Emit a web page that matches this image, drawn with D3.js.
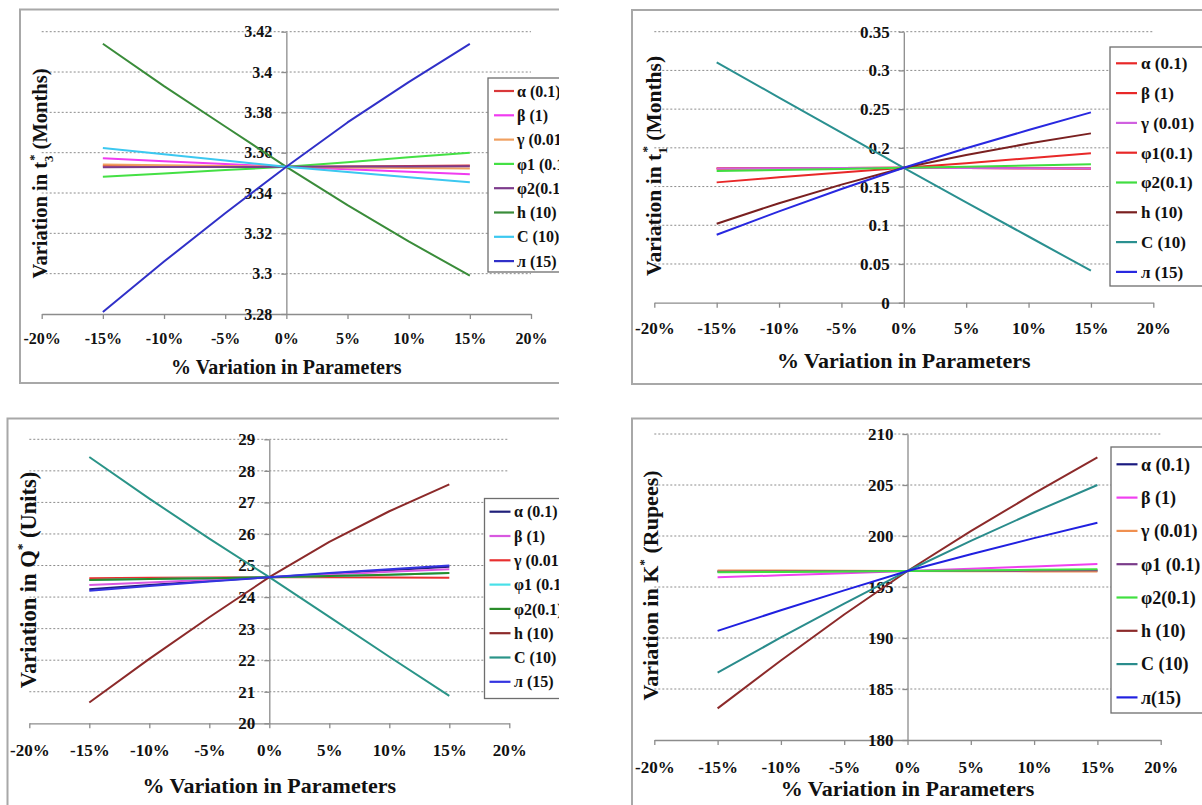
<!DOCTYPE html>
<html><head><meta charset="utf-8">
<script src="https://cdn.jsdelivr.net/npm/d3@7"></script>
<style>
html,body{margin:0;padding:0;background:#fff;}
svg{display:block;}
text{font-family:"Liberation Serif","Times New Roman",serif;font-weight:bold;fill:#111;}
</style></head><body>
<svg id="chart" width="1202" height="805"></svg>
<script>
// ---------- shared ----------
const xValues = [-15, -10, -5, 0, 5, 10, 15];
const xTickValues = [-20, -15, -10, -5, 0, 5, 10, 15, 20];
const xTickLabels = ["-20%", "-15%", "-10%", "-5%", "0%", "5%", "10%", "15%", "20%"];
const xTitle = "% Variation in Parameters";

// ---------- panel 1 : t3* ----------
const names1 = ["α (0.1)", "β (1)", "γ (0.01)", "φ1 (0.1)", "φ2(0.1)", "h (10)", "C (10)", "л (15)"];
const t3_alpha  = [3.3535, 3.3534, 3.3532, 3.353, 3.3532, 3.3534, 3.3536];
const t3_beta   = [3.3573, 3.3558, 3.3544, 3.353, 3.3518, 3.3505, 3.3493];
const t3_gamma  = [3.3542, 3.3538, 3.3534, 3.353, 3.3527, 3.3524, 3.3521];
const t3_phi1   = [3.3481, 3.3497, 3.3514, 3.353, 3.3553, 3.3577, 3.3600];
const t3_phi2   = [3.3528, 3.3529, 3.3529, 3.353, 3.3531, 3.3532, 3.3533];
const t3_h      = [3.414, 3.393, 3.373, 3.353, 3.334, 3.316, 3.299];
const t3_C      = [3.3623, 3.3592, 3.3561, 3.353, 3.3504, 3.3478, 3.3453];
const t3_lambda = [3.281, 3.306, 3.330, 3.353, 3.375, 3.395, 3.414];
const yTicks1 = [3.28, 3.30, 3.32, 3.34, 3.36, 3.38, 3.40, 3.42];
const yTickLabels1 = ["3.28", "3.3", "3.32", "3.34", "3.36", "3.38", "3.4", "3.42"];
const colors1 = ["#d9383a", "#f03cf0", "#f0a060", "#44e044", "#7d3c8c", "#3a8c3a", "#3cc8f0", "#3030c8"];

// ---------- panel 2 : t1* ----------
const names2 = ["α (0.1)", "β (1)", "γ (0.01)", "φ1(0.1)", "φ2(0.1)", "h (10)", "C (10)", "л (15)"];
const t1_alpha  = [0.1734, 0.1737, 0.1739, 0.1742, 0.1739, 0.1737, 0.1734];
const t1_beta   = [0.1734, 0.1737, 0.1739, 0.1742, 0.1739, 0.1737, 0.1734];
const t1_gamma  = [0.1733, 0.1736, 0.1739, 0.1742, 0.1739, 0.1736, 0.1733];
const t1_phi1   = [0.1554, 0.1620, 0.1682, 0.1742, 0.1802, 0.1865, 0.1929];
const t1_phi2   = [0.1700, 0.1714, 0.1728, 0.1742, 0.1757, 0.1772, 0.1787];
const t1_h      = [0.1020, 0.1285, 0.1525, 0.1742, 0.1907, 0.2055, 0.2187];
const t1_C      = [0.3104, 0.2650, 0.2195, 0.1742, 0.1295, 0.0855, 0.0413];
const t1_lambda = [0.0878, 0.1180, 0.1468, 0.1742, 0.1995, 0.2230, 0.2458];
const yTicks2 = [0, 0.05, 0.1, 0.15, 0.2, 0.25, 0.3, 0.35];
const yTickLabels2 = ["0", "0.05", "0.1", "0.15", "0.2", "0.25", "0.3", "0.35"];
const colors2 = ["#e82828", "#e82828", "#d060e0", "#e82828", "#40dd40", "#7a2020", "#2a9090", "#2828e0"];

// ---------- panel 3 : Q* ----------
const names3 = ["α (0.1)", "β (1)", "γ (0.01)", "φ1 (0.1)", "φ2(0.1)", "h (10)", "C (10)", "л (15)"];
const q_alpha  = [24.25, 24.38, 24.51, 24.63, 24.74, 24.85, 24.96];
const q_beta   = [24.38, 24.46, 24.55, 24.63, 24.71, 24.80, 24.88];
const q_gamma  = [24.60, 24.61, 24.62, 24.63, 24.625, 24.62, 24.61];
const q_phi1   = [24.54, 24.57, 24.60, 24.63, 24.67, 24.71, 24.76];
const q_phi2   = [24.54, 24.57, 24.60, 24.63, 24.67, 24.71, 24.76];
const q_h      = [20.66, 22.04, 23.36, 24.63, 25.75, 26.72, 27.57];
const q_C      = [28.44, 27.12, 25.85, 24.63, 23.37, 22.11, 20.87];
const q_lambda = [24.20, 24.35, 24.49, 24.63, 24.76, 24.88, 25.00];
const yTicks3 = [20, 21, 22, 23, 24, 25, 26, 27, 28, 29];
const yTickLabels3 = ["20", "21", "22", "23", "24", "25", "26", "27", "28", "29"];
const colors3 = ["#20207a", "#d858e0", "#e83030", "#48e0e8", "#2a8c2a", "#8c2a2a", "#2a9488", "#3434e0"];

// ---------- panel 4 : K* ----------
const names4 = ["α (0.1)", "β (1)", "γ (0.01)", "φ1 (0.1)", "φ2(0.1)", "h (10)", "C (10)", "л(15)"];
const k_alpha  = [196.55, 196.56, 196.56, 196.57, 196.58, 196.58, 196.59];
const k_beta   = [195.95, 196.15, 196.36, 196.57, 196.80, 197.02, 197.25];
const k_gamma  = [196.62, 196.61, 196.59, 196.57, 196.55, 196.53, 196.51];
const k_phi1   = [196.50, 196.52, 196.55, 196.57, 196.59, 196.61, 196.63];
const k_phi2   = [196.44, 196.48, 196.53, 196.57, 196.62, 196.68, 196.73];
const k_h      = [183.1, 187.8, 192.3, 196.57, 200.47, 204.17, 207.7];
const k_C      = [186.6, 190.05, 193.37, 196.57, 199.52, 202.33, 205.0];
const k_lambda = [190.7, 192.72, 194.67, 196.57, 198.21, 199.79, 201.3];
const yTicks4 = [180, 185, 190, 195, 200, 205, 210];
const yTickLabels4 = ["180", "185", "190", "195", "200", "205", "210"];
const colors4 = ["#1a1a80", "#f040f0", "#f09050", "#7a3c8a", "#40e040", "#8c2a2a", "#2a8c8c", "#2020e0"];

// ---------- layout ----------
const panels = [
  { clip: true, frame: [20, 9.5, 700, 373.5],
    xRange: [41.7, 531], yRange: [314, 31.7],
    yTicks: yTicks1, yLabels: yTickLabels1, names: names1, colors: colors1,
    series: [t3_alpha, t3_beta, t3_gamma, t3_phi1, t3_phi2, t3_h, t3_C, t3_lambda],
    tickFont: 16, xLabelY: 338, xTitleY: 367, xTitleFont: 20,
    yTitle: [["Variation in t"], ["3", "sub"], ["*", "sup"], ["  (Months)"]],
    yTitleX: 40, yTitleY: 173.5, yTitleFont: 20.5,
    legend: { x: 488, y: 78, w: 140, h: 194, first: 91, step: 24.3, l1: 494, l2: 514, tx: 517, font: 16 } },
  { clip: false, frame: [632, 10, 700, 374],
    xRange: [654.3, 1153.3], yRange: [302.7, 31.7],
    yTicks: yTicks2, yLabels: yTickLabels2, names: names2, colors: colors2,
    series: [t1_alpha, t1_beta, t1_gamma, t1_phi1, t1_phi2, t1_h, t1_C, t1_lambda],
    tickFont: 17, xLabelY: 328.5, xTitleY: 360, xTitleFont: 22,
    yTitle: [["Variation in t"], ["1", "sub"], ["*", "sup"], ["  (Months)"]],
    yTitleX: 653.5, yTitleY: 166, yTitleFont: 21.5,
    legend: { x: 1110, y: 47, w: 140, h: 239, first: 63.3, step: 29.8, l1: 1116, l2: 1137, tx: 1141, font: 17 } },
  { clip: true, frame: [7.5, 418.5, 700, 500],
    xRange: [29.3, 509.3], yRange: [723.3, 439.3],
    yTicks: yTicks3, yLabels: yTickLabels3, names: names3, colors: colors3,
    series: [q_alpha, q_beta, q_gamma, q_phi1, q_phi2, q_h, q_C, q_lambda],
    tickFont: 17, xLabelY: 750, xTitleY: 785, xTitleFont: 22,
    yTitle: [["Variation in Q"], ["*", "sup"], [" (Units)"]],
    yTitleX: 28.5, yTitleY: 580, yTitleFont: 22.5,
    legend: { x: 484.5, y: 498.5, w: 140, h: 200, first: 511.7, step: 24.3, l1: 489.5, l2: 510.5, tx: 514, font: 16 } },
  { clip: false, frame: [632, 418.5, 700, 500],
    xRange: [654.3, 1160.7], yRange: [740, 434],
    yTicks: yTicks4, yLabels: yTickLabels4, names: names4, colors: colors4,
    series: [k_alpha, k_beta, k_gamma, k_phi1, k_phi2, k_h, k_C, k_lambda],
    tickFont: 17, xLabelY: 767, xTitleY: 788, xTitleFont: 22,
    yTitle: [["Variation in K"], ["*", "sup"], ["  (Rupees)"]],
    yTitleX: 650, yTitleY: 585.5, yTitleFont: 22,
    legend: { x: 1111, y: 447, w: 140, h: 266, first: 464.3, step: 33.3, l1: 1116.5, l2: 1137.5, tx: 1141, font: 18 } }
];

const svg = d3.select("#chart");
svg.append("rect").attr("width", 1202).attr("height", 805).attr("fill", "#fff");
svg.append("defs").append("clipPath").attr("id", "leftClip")
  .append("rect").attr("x", 0).attr("y", 0).attr("width", 559).attr("height", 805);

const serif = "'Liberation Serif','Times New Roman',serif";

panels.forEach((p) => {
  const g = svg.append("g");
  if (p.clip) g.attr("clip-path", "url(#leftClip)");

  // frame
  g.append("rect").attr("x", p.frame[0]).attr("y", p.frame[1])
    .attr("width", p.frame[2]).attr("height", p.frame[3])
    .attr("fill", "#fff").attr("stroke", "#a8a8a8").attr("stroke-width", 2);

  const x = d3.scaleLinear().domain([-20, 20]).range(p.xRange);
  const yMin = p.yTicks[0], yMax = p.yTicks[p.yTicks.length - 1];
  const y = d3.scaleLinear().domain([yMin, yMax]).range(p.yRange);

  // gridlines
  g.append("g").selectAll("line").data(p.yTicks.slice(1)).join("line")
    .attr("x1", x(-20)).attr("x2", x(20))
    .attr("y1", d => y(d)).attr("y2", d => y(d))
    .attr("stroke", "#8c8c8c").attr("stroke-width", 1).attr("stroke-dasharray", "2,2");

  // x axis
  const xa = g.append("g").attr("transform", `translate(0,${y(yMin)})`)
    .call(d3.axisBottom(x).tickValues(xTickValues).tickFormat((d, i) => xTickLabels[i])
      .tickSize(5).tickSizeOuter(0));
  xa.select(".domain").attr("stroke", "#8c8c8c").attr("stroke-width", 1.3);
  xa.selectAll(".tick line").attr("stroke", "#8c8c8c").attr("stroke-width", 1.3);
  xa.selectAll(".tick text").attr("y", p.xLabelY - y(yMin)).attr("dy", "0.35em")
    .style("font-size", p.tickFont + "px").style("font-family", serif)
    .style("font-weight", "bold").attr("fill", "#111");

  // y axis
  const ya = g.append("g").attr("transform", `translate(${x(0)},0)`)
    .call(d3.axisLeft(y).tickValues(p.yTicks).tickFormat((d, i) => p.yLabels[i])
      .tickSize(5).tickPadding(9).tickSizeOuter(0));
  ya.select(".domain").attr("stroke", "#8c8c8c").attr("stroke-width", 1.3);
  ya.selectAll(".tick line").attr("stroke", "#8c8c8c").attr("stroke-width", 1.3);
  ya.selectAll(".tick text")
    .style("font-size", p.tickFont + "px").style("font-family", serif)
    .style("font-weight", "bold").attr("fill", "#111");

  // series lines
  const line = d3.line().x((d, i) => x(xValues[i])).y(d => y(d));
  g.append("g").selectAll("path").data(p.series).join("path")
    .attr("d", d => line(d)).attr("fill", "none")
    .attr("stroke", (d, i) => p.colors[i]).attr("stroke-width", 2)
    .attr("stroke-linejoin", "round");

  // x title
  g.append("text").attr("x", x(0)).attr("y", p.xTitleY).attr("dy", "0.35em")
    .attr("text-anchor", "middle").style("font-size", p.xTitleFont + "px").text(xTitle);

  // y title
  const yt = g.append("text")
    .attr("transform", `translate(${p.yTitleX},${p.yTitleY}) rotate(-90)`)
    .attr("text-anchor", "middle").attr("dy", "0.35em")
    .style("font-size", p.yTitleFont + "px");
  let shift = 0;
  p.yTitle.forEach(([txt, kind]) => {
    const ts = yt.append("tspan").text(txt);
    const fs = p.yTitleFont;
    if (kind === "sub") {
      ts.style("font-size", (fs * 0.62) + "px").attr("dy", fs * 0.3);
      shift = fs * 0.3;
    } else if (kind === "sup") {
      const dy = -fs * 0.45 - shift;
      ts.style("font-size", (fs * 0.6) + "px").attr("dy", dy);
      if (shift) ts.attr("dx", -fs * 0.25);
      shift = -fs * 0.45;
    } else if (shift !== 0) {
      ts.attr("dy", -shift);
      shift = 0;
    }
  });

  // legend
  const L = p.legend;
  const lg = g.append("g");
  lg.append("rect").attr("x", L.x).attr("y", L.y).attr("width", L.w).attr("height", L.h)
    .attr("fill", "#fff").attr("stroke", "#6e6e6e").attr("stroke-width", 1.3);
  const items = lg.selectAll("g.item").data(p.names).join("g").attr("class", "item");
  items.append("line").attr("x1", L.l1).attr("x2", L.l2)
    .attr("y1", (d, i) => L.first + i * L.step).attr("y2", (d, i) => L.first + i * L.step)
    .attr("stroke", (d, i) => p.colors[i]).attr("stroke-width", 2.2);
  items.append("text").attr("x", L.tx).attr("y", (d, i) => L.first + i * L.step)
    .attr("dy", "0.35em").style("font-size", L.font + "px").text(d => d);
});
</script>
</body></html>
